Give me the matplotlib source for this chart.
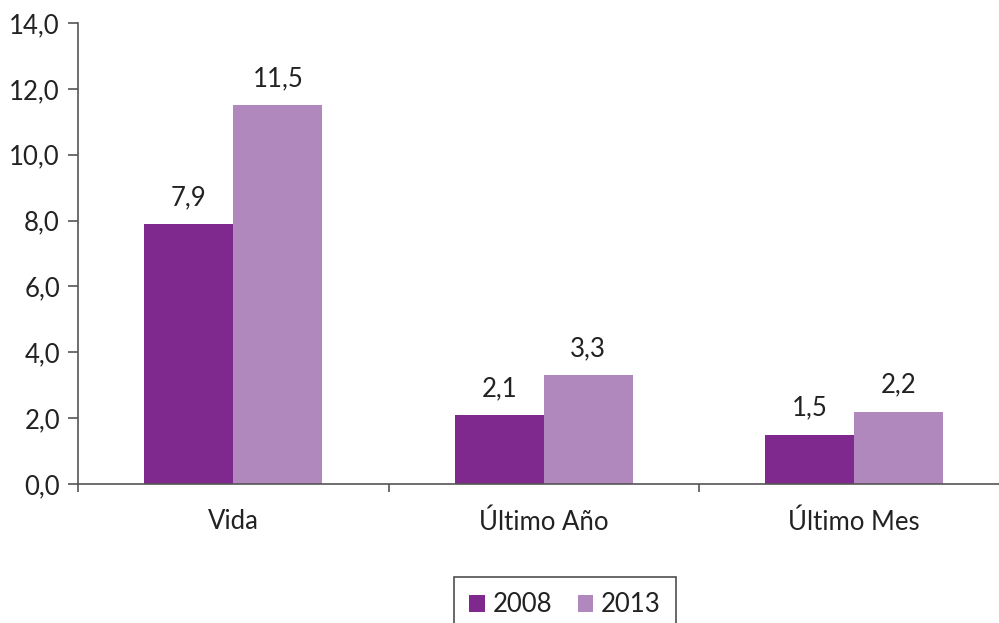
import matplotlib
matplotlib.use("Agg")
import matplotlib.pyplot as plt
import numpy as np

categories = ["Vida", "Último Año", "Último Mes"]
series_names = ["2008", "2013"]
values_2008 = [7.9, 2.1, 1.5]
values_2013 = [11.5, 3.3, 2.2]
yticks = [0, 2, 4, 6, 8, 10, 12, 14]

colors = ["#7F288E", "#B088BE"]

plt.rcParams['font.family'] = ['Lato', 'DejaVu Sans']
FS = 18.5

fig = plt.figure(figsize=(9.99, 6.23), dpi=100)
ax = fig.add_axes([78/999, (623-484)/623, (1009.5-78)/999, (484-23)/623])

x = np.arange(len(categories))
w = 0.287
bars1 = ax.bar(x - w/2, values_2008, w, color=colors[0], label=series_names[0])
bars2 = ax.bar(x + w/2, values_2013, w, color=colors[1], label=series_names[1])

for bars, vals in ((bars1, values_2008), (bars2, values_2013)):
    for b, v in zip(bars, vals):
        ax.annotate(f"{v:.1f}".replace(".", ","), (b.get_x() + b.get_width()/2, v),
                    xytext=(0, 10), textcoords="offset points", ha="center", va="bottom",
                    fontsize=FS, color="#222222")

ax.set_xlim(-0.5, 2.5)
ax.set_ylim(0, 14)
ax.set_yticks(yticks)
ax.set_yticklabels([f"{t:.1f}".replace(".", ",") for t in yticks], fontsize=FS, color="#222222")
ax.set_xticks(x)
ax.set_xticklabels(categories, fontsize=FS, color="#222222")
ax.tick_params(axis="x", which="major", length=0, pad=18)
ax.set_xticks([-0.5, 0.5, 1.5, 2.5], minor=True)
ax.tick_params(axis="x", which="minor", length=6, color="#555555", width=1.2)
ax.tick_params(axis="y", length=7, color="#555555", width=1.2, pad=6)

for s in ["top", "right"]:
    ax.spines[s].set_visible(False)
for s in ["left", "bottom"]:
    ax.spines[s].set_color("#555555")
    ax.spines[s].set_linewidth(1.2)

leg = fig.legend(handles=[bars1, bars2], labels=series_names, loc="upper left",
                 bbox_to_anchor=(454/999, 1 - 577/623), ncol=2, fontsize=FS,
                 frameon=True, fancybox=False, handlelength=0.6, handleheight=0.6,
                 handletextpad=0.3, columnspacing=1.0, borderpad=0.6,
                 edgecolor="#222222", borderaxespad=0)
leg.get_frame().set_linewidth(1.2)
for t in leg.get_texts():
    t.set_color("#222222")

fig.savefig("out.png", dpi=100)
